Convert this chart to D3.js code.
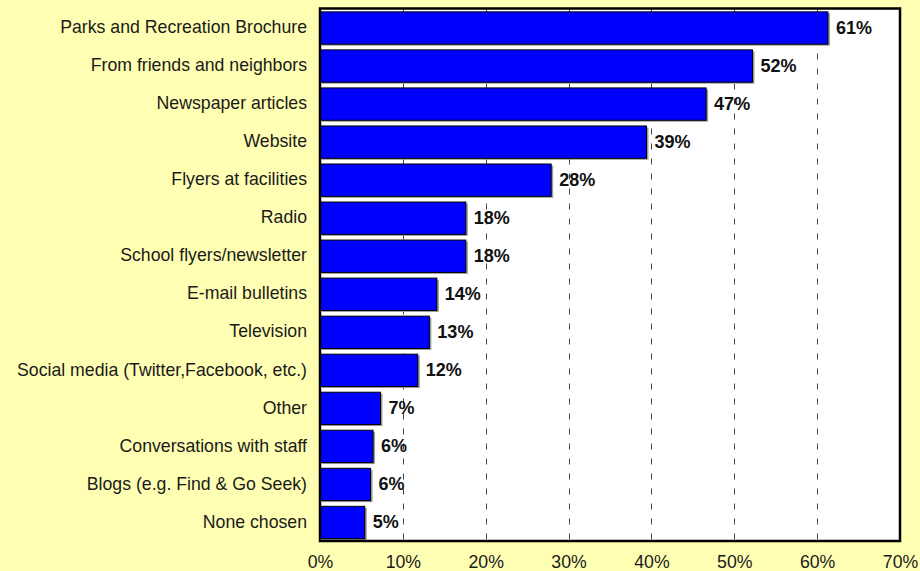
<!DOCTYPE html>
<html>
<head>
<meta charset="utf-8">
<script src="https://cdn.jsdelivr.net/npm/d3@7"></script>
<style>
  html, body { margin: 0; padding: 0; background: #FFFFB3; }
  svg { display: block; }
  text { font-family: "Liberation Sans", Arial, sans-serif; }
</style>
</head>
<body>
<svg id="chart" width="920" height="571"></svg>
<script>
// Sources of information, share of respondents (fractions)
const categories = [
  "Parks and Recreation Brochure",
  "From friends and neighbors",
  "Newspaper articles",
  "Website",
  "Flyers at facilities",
  "Radio",
  "School flyers/newsletter",
  "E-mail bulletins",
  "Television",
  "Social media (Twitter,Facebook, etc.)",
  "Other",
  "Conversations with staff",
  "Blogs (e.g. Find & Go Seek)",
  "None chosen"
];
const values = [0.613, 0.522, 0.466, 0.394, 0.279, 0.176, 0.176, 0.141, 0.132, 0.118, 0.073, 0.064, 0.061, 0.054];
const tickValues = [0, 0.1, 0.2, 0.3, 0.4, 0.5, 0.6, 0.7];

const data = categories.map((c, i) => ({ name: c, value: values[i] }));

const svg = d3.select("#chart");
const margin = { top: 8.5, right: 20, bottom: 30, left: 320 };
const W = 920, H = 571;
const plotW = W - margin.left - margin.right;
const plotH = H - margin.top - margin.bottom;

const x = d3.scaleLinear().domain([0, 0.7]).range([0, plotW]);
const y = d3.scaleBand().domain(categories).range([0, plotH])
  .paddingInner(0.15).paddingOuter(0.075);

const g = svg.append("g").attr("transform", `translate(${margin.left},${margin.top})`);

// plot background
g.append("rect").attr("x", 0).attr("y", 0).attr("width", plotW).attr("height", plotH)
  .attr("fill", "#ffffff");

// dashed vertical gridlines
g.append("g").selectAll("line")
  .data(tickValues.slice(1, -1))
  .join("line")
  .attr("x1", d => Math.round(x(d)) + 0.5).attr("x2", d => Math.round(x(d)) + 0.5)
  .attr("y1", 0).attr("y2", plotH)
  .attr("stroke", "#444").attr("stroke-width", 1)
  .attr("stroke-dasharray", "6,9");

// bar shadows
g.append("g").selectAll("rect")
  .data(data)
  .join("rect")
  .attr("x", 2)
  .attr("y", d => y(d.name) + 2)
  .attr("width", d => x(d.value))
  .attr("height", y.bandwidth())
  .attr("fill", "#9a9a9a");

// bars
g.append("g").selectAll("rect")
  .data(data)
  .join("rect")
  .attr("x", 0.5)
  .attr("y", d => y(d.name) + 0.5)
  .attr("width", d => x(d.value) - 0.5)
  .attr("height", y.bandwidth())
  .attr("fill", "#0000FF")
  .attr("stroke", "#000").attr("stroke-width", 1);

// value labels
const pct = d3.format(".0%");
g.append("g").selectAll("text")
  .data(data)
  .join("text")
  .attr("x", d => x(d.value) + 8)
  .attr("y", d => y(d.name) + y.bandwidth() / 2)
  .attr("dy", "0.36em")
  .attr("font-size", "18px")
  .attr("font-weight", "bold")
  .attr("fill", "#111")
  .text(d => pct(d.value));

// category axis
const yAxis = g.append("g").call(d3.axisLeft(y).tickSize(0).tickPadding(13));
yAxis.select(".domain").remove();
yAxis.selectAll("text")
  .attr("font-size", "17.7px")
  .attr("font-family", "'Liberation Sans', Arial, sans-serif")
  .attr("fill", "#1a1a1a");

// value axis
const xAxis = g.append("g").attr("transform", `translate(0,${plotH})`)
  .call(d3.axisBottom(x).tickValues(tickValues).tickFormat(d3.format(".0%")).tickSize(0).tickPadding(14));
xAxis.select(".domain").remove();
xAxis.selectAll("text")
  .attr("font-size", "17.7px")
  .attr("font-family", "'Liberation Sans', Arial, sans-serif")
  .attr("fill", "#1a1a1a");

// plot frame
g.append("rect").attr("x", 0).attr("y", 0).attr("width", plotW).attr("height", plotH)
  .attr("fill", "none").attr("stroke", "#000").attr("stroke-width", 2.5);
</script>
</body>
</html>
